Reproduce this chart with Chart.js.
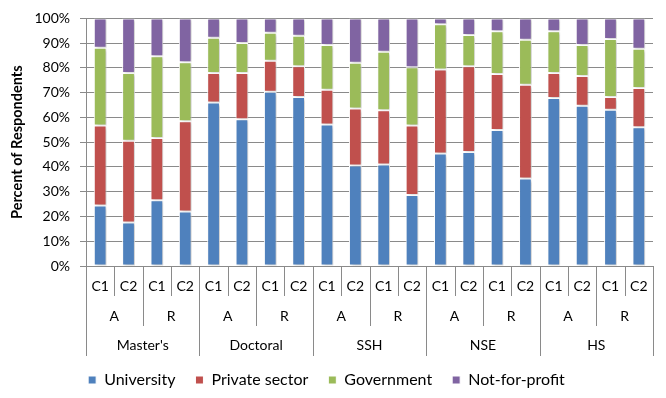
<!DOCTYPE html>
<html>
<head>
<meta charset="utf-8">
<script src="https://cdn.jsdelivr.net/npm/chart.js@4/dist/chart.umd.min.js"></script>
<style>
	html, body { margin: 0; padding: 0; background: #fff; }
	#wrap { width: 666px; height: 398px; position: relative; }
</style>
</head>
<body>
<div id="wrap"><canvas id="chart"></canvas></div>
<script>
const cycles = ["C1", "C2"];
const types = ["A", "R"];
const groups = ["Master's", "Doctoral", "SSH", "NSE", "HS"];

// one value per bar, bars ordered group > type > cycle
const university = [24.4, 17.6, 26.6, 22.0, 66.0, 59.3, 70.4, 68.3, 57.1, 40.6, 41.0, 28.7, 45.4, 46.0, 54.9, 35.3, 67.9, 64.7, 63.1, 56.0];
const privateSector = [32.3, 33.0, 25.1, 36.5, 11.9, 18.6, 12.5, 12.4, 14.1, 23.0, 21.9, 28.0, 34.0, 34.7, 22.6, 37.9, 10.0, 12.0, 5.2, 15.9];
const government = [31.4, 27.3, 33.0, 23.8, 14.3, 12.2, 11.3, 12.3, 18.1, 18.5, 23.6, 23.6, 18.2, 12.6, 17.3, 18.2, 16.9, 12.6, 23.4, 15.8];
const notForProfit = [11.9, 22.1, 15.3, 17.7, 7.8, 9.9, 5.8, 7.0, 10.7, 17.9, 13.5, 19.7, 2.4, 6.7, 5.2, 8.6, 5.2, 10.7, 8.3, 12.3];

const yTicks = [0, 10, 20, 30, 40, 50, 60, 70, 80, 90, 100];

const labels = [];
groups.forEach((g) => {
	types.forEach((t) => {
		cycles.forEach((c) => labels.push([c, t, g]));
	});
});

const FONT = "Lato, 'Open Sans', sans-serif";
const GRID = "#8a8a8a";

const shadowPlugin = {
	id: "shadow",
	beforeDatasetsDraw(chart) {
		const ctx = chart.ctx;
		ctx.save();
		ctx.shadowColor = "rgba(0,0,0,0.22)";
		ctx.shadowBlur = 3;
		ctx.shadowOffsetX = 2;
		ctx.shadowOffsetY = 1;
	},
	afterDatasetsDraw(chart) {
		chart.ctx.restore();
	},
};

// draws the three rows of category labels with their separator lines
const tierPlugin = {
	id: "tiers",
	afterDraw(chart) {
		const ctx = chart.ctx;
		const x = chart.scales.x;
		const top = chart.chartArea.bottom;
		const n = labels.length;
		const edge = (i) => x.getPixelForValue(i - 0.5);

		ctx.save();
		ctx.strokeStyle = GRID;
		ctx.lineWidth = 1;
		for (let i = 0; i <= n; i++) {
			let depth = 30;
			if (i % 2 == 0) depth = 60;
			if (i % 4 == 0) depth = 90;
			const px = Math.round(edge(i)) + 0.5;
			ctx.beginPath();
			ctx.moveTo(px, top);
			ctx.lineTo(px, top + depth);
			ctx.stroke();
		}

		ctx.fillStyle = "#000";
		ctx.textAlign = "center";
		ctx.textBaseline = "middle";
		ctx.font = "14px " + FONT;
		for (let i = 0; i < n; i++) {
			ctx.fillText(labels[i][0], x.getPixelForValue(i), top + 20);
		}
		for (let i = 0; i < n; i += 2) {
			ctx.fillText(labels[i][1], (edge(i) + edge(i + 2)) / 2, top + 50);
		}
		for (let i = 0; i < n; i += 4) {
			ctx.fillText(labels[i][2], (edge(i) + edge(i + 4)) / 2, top + 79);
		}
		ctx.restore();
	},
};

function makeSet(label, data, color) {
	return {
		label,
		data,
		backgroundColor: color,
		borderColor: "#ffffff",
		borderWidth: 1,
		borderSkipped: false,
		barPercentage: 0.45,
		categoryPercentage: 1,
	};
}

const chart = new Chart(document.getElementById("chart"), {
	type: "bar",
	data: {
		labels,
		datasets: [
			makeSet("University", university, "#4f81bd"),
			makeSet("Private sector", privateSector, "#c0504d"),
			makeSet("Government", government, "#9bbb59"),
			makeSet("Not-for-profit", notForProfit, "#8064a2"),
		],
	},
	options: {
		responsive: true,
		maintainAspectRatio: false,
		animation: false,
		layout: {
			padding: { top: 14, right: 13, left: 0, bottom: 0 },
		},
		scales: {
			x: {
				stacked: true,
				grid: { display: false },
				border: { display: true, color: GRID },
				ticks: { display: false },
				afterFit: (scale) => {
					const legendH = scale.chart.legend ? scale.chart.legend.height : 30;
					scale.height = 398 - 266 - legendH;
				},
			},
			y: {
				stacked: true,
				min: 0,
				max: 100,
				afterBuildTicks: (scale) => {
					scale.ticks = yTicks.map((v) => ({ value: v }));
				},
				grid: { color: GRID, tickLength: 6 },
				border: { color: GRID },
				ticks: {
					color: "#000",
					padding: 10,
					font: { family: FONT, size: 14 },
					callback: (v) => v + "%",
				},
				title: {
					display: true,
					text: "Percent of Respondents",
					color: "#000",
					font: { family: FONT, size: 14.5, weight: "bold" },
					padding: { top: 9, bottom: 0 },
				},
				afterFit: (scale) => {
					scale.width = 86;
				},
			},
		},
		plugins: {
			legend: {
				position: "bottom",
				labels: {
					color: "#000",
					boxWidth: 8,
					boxHeight: 8,
					padding: 20,
					font: { family: FONT, size: 16 },
				},
			},
			tooltip: { enabled: false },
		},
	},
	plugins: [shadowPlugin, tierPlugin],
});
</script>
</body>
</html>
